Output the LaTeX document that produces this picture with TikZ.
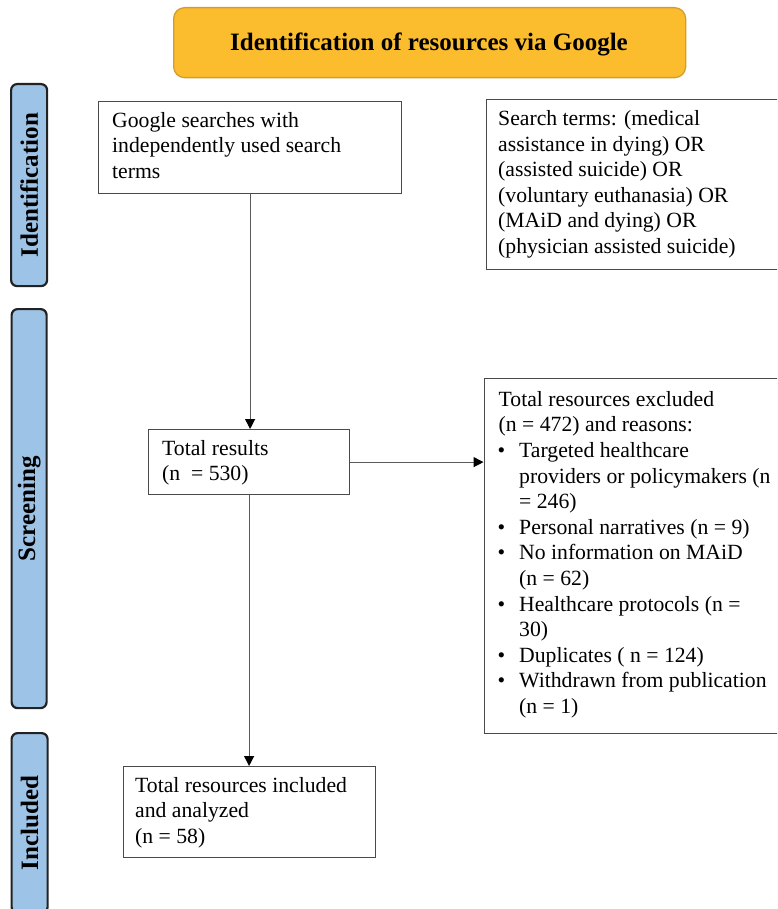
\documentclass[tikz,border=0pt]{standalone}
\usepackage{fontspec}
\setmainfont{Liberation Serif}
\usetikzlibrary{arrows.meta}
\definecolor{titlefill}{HTML}{FBBD2E}
\definecolor{titleedge}{HTML}{D49C2C}
\definecolor{barfill}{HTML}{9DC3E6}
\definecolor{baredge}{HTML}{222222}
\definecolor{boxedge}{HTML}{4A4A4A}
\definecolor{arrowline}{HTML}{5A5A5A}
\newcommand\firststrut{\rule{0pt}{16pt}}
\newcommand\bul{\makebox[20.5pt][l]{\hspace{-1pt}•}}
\newcommand\ind{\hspace*{20.5pt}}
\begin{document}
\begin{tikzpicture}[x=1pt,y=-1pt,
  box/.style={draw=boxedge, line width=1.2pt, rectangle, inner sep=0pt, anchor=north west},
  titlebox/.style={draw=titleedge, fill=titlefill, line width=1.3pt, rectangle, rounded corners=11pt, inner sep=0pt, anchor=north west},
  bar/.style={draw=baredge, fill=barfill, line width=2.2pt, rectangle, rounded corners=6pt, inner sep=0pt, anchor=north west},
  txt/.style={anchor=north west, inner sep=0pt, align=left, font=\fontsize{21.7}{25.6}\selectfont},
  side/.style={rotate=90, inner sep=0pt, font=\bfseries\fontsize{25}{30}\selectfont},
  arr/.style={draw=arrowline, line width=1.2pt, -{Triangle[length=10pt,width=10pt,color=black]}}
]
\useasboundingbox (0,0) rectangle (777,909);
\clip (0,0) rectangle (777,909);

% title
\node[titlebox, minimum width=512pt, minimum height=70pt] (title) at (173,7) {};
\node[anchor=base, inner sep=0pt, font=\bfseries\fontsize{25}{30}\selectfont] (titletext) at (429,51) {Identification of resources via Google};

% side bars
\node[bar, minimum width=36pt, minimum height=202pt] (idbar) at (10,83) {};
\node[side] (idlabel) at (idbar.center) {Identification};
\node[bar, minimum width=35pt, minimum height=399pt] (scbar) at (10.5,308) {};
\node[side] (sclabel) at (scbar.center) {Screening};
\node[bar, minimum width=36pt, minimum height=180pt] (inbar) at (10.5,732) {};
\node[side] (inlabel) at (inbar.center) {Included};

% boxes
\node[box, minimum width=303pt, minimum height=92pt] (g) at (98,101) {};
\node[txt] (gtext) at (112,111) {\firststrut Google searches with\\independently used search\\terms};

\node[box, minimum width=310pt, minimum height=170pt] (s) at (486,99) {};
\node[txt] (stext) at (498,109.3) {\firststrut Search terms: (medical\\assistance in dying) OR\\(assisted suicide) OR\\(voluntary euthanasia) OR\\(MAiD and dying) OR\\(physician assisted suicide)};

\node[box, minimum width=201pt, minimum height=65pt] (tr) at (148,429) {};
\node[txt] (trtext) at (162,439) {\firststrut Total results\\(n\ \ = 530)};

\node[box, minimum width=310pt, minimum height=355pt] (ex) at (483.5,378) {};
\node[txt] (extext) at (498.5,390) {\firststrut Total resources excluded\\(n = 472) and reasons:\\
\bul Targeted healthcare\\
\ind providers or policymakers (n\\
\ind = 246)\\
\bul Personal narratives (n = 9)\\
\bul No information on MAiD\\
\ind (n = 62)\\
\bul Healthcare protocols (n =\\
\ind 30)\\
\bul Duplicates ( n = 124)\\
\bul Withdrawn from publication\\
\ind (n = 1)};

\node[box, minimum width=252pt, minimum height=91pt] (inc) at (123,766) {};
\node[txt] (inctext) at (135,776) {\firststrut Total resources included\\and analyzed\\(n = 58)};

% connectors
\draw[arr] (g.south) -- (g.south |- tr.north);
\draw[arr] (tr.east) -- (tr.east -| ex.west);
\draw[arr] (tr.south) -- (tr.south |- inc.north);
\end{tikzpicture}
\end{document}
